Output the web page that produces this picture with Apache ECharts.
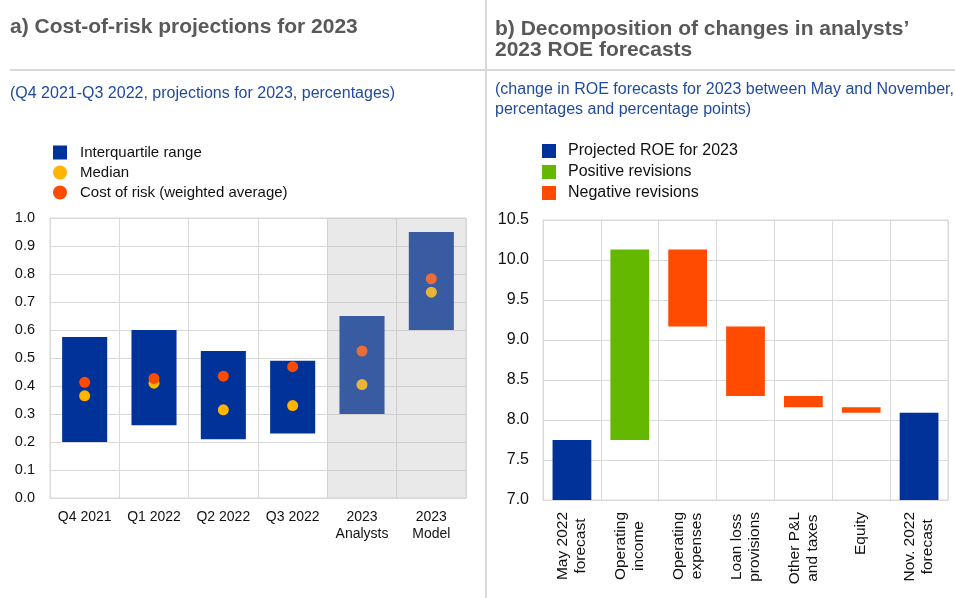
<!DOCTYPE html>
<html><head><meta charset="utf-8">
<script src="https://cdn.jsdelivr.net/npm/echarts@6/dist/echarts.min.js"></script>
<style>html,body{margin:0;padding:0;background:#fff}#c{width:955px;height:598px}</style>
</head><body><div id="c"></div>
<script>
// ---- Panel a data ----
const corCategories = ['Q4 2021', 'Q1 2022', 'Q2 2022', 'Q3 2022', '2023\nAnalysts', '2023\nModel'];
const iqrLower = [0.20, 0.26, 0.21, 0.23, 0.30, 0.60];
const iqrUpper = [0.575, 0.60, 0.525, 0.49, 0.65, 0.95];
const medianValues = [0.365, 0.41, 0.315, 0.33, 0.405, 0.735];
const corWeighted = [0.413, 0.427, 0.435, 0.469, 0.525, 0.783];
const projectionPeriod = [0, 0, 0, 0, 1, 1];
const corAxis = { min: 0, max: 1, interval: 0.1 };

// ---- Panel b data ----
const roeCategories = ['May 2022\nforecast', 'Operating\nincome', 'Operating\nexpenses', 'Loan loss\nprovisions', 'Other P&L\nand taxes', 'Equity', 'Nov. 2022\nforecast'];
const roeMay = 7.75;
const roeRevisions = [2.38, -0.96, -0.87, -0.14, -0.07];
const roeNov = 8.09;
const roeAxis = { min: 7, max: 10.5, interval: 0.5 };

// ---- derived ----
const iqrSize = iqrUpper.map((u, i) => +(u - iqrLower[i]).toFixed(4));
const shade = projectionPeriod.map(p => p ? corAxis.max : '-');

const roeBase = [0], roeProj = [roeMay], roePos = ['-'], roeNeg = ['-'];
let level = roeMay;
roeRevisions.forEach(d => {
  const next = level + d;
  roeBase.push(+Math.min(level, next).toFixed(4));
  roePos.push(d > 0 ? d : '-');
  roeNeg.push(d < 0 ? -d : '-');
  roeProj.push('-');
  level = next;
});
roeBase.push(0); roeProj.push(roeNov); roePos.push('-'); roeNeg.push('-');

const FONT = 'Arial, "Liberation Sans", sans-serif';
const GRID = '#d9d9d9';
const TXT = '#111';
const BLUE = '#003299', YELLOW = '#ffb400', RED = '#ff4b00', GREEN = '#65b800';

const chart = echarts.init(document.getElementById('c'), null, { renderer: 'canvas' });
chart.setOption({
  animation: false,
  textStyle: { fontFamily: FONT },
  title: [
    { text: 'a) Cost-of-risk projections for 2023', left: 10, top: 16, padding: 0,
      textStyle: { fontFamily: FONT, fontSize: 21, fontWeight: 'bold', color: '#595959', lineHeight: 22 } },
    { text: '(Q4 2021-Q3 2022, projections for 2023, percentages)', left: 10, top: 84, padding: 0,
      textStyle: { fontFamily: FONT, fontSize: 16, fontWeight: 'normal', color: '#1f4a9e', lineHeight: 20 } },
    { text: 'b) Decomposition of changes in analysts\u2019\n2023 ROE forecasts', left: 495, top: 18, padding: 0,
      textStyle: { fontFamily: FONT, fontSize: 21, fontWeight: 'bold', color: '#595959', lineHeight: 21.5 } },
    { text: '(change in ROE forecasts for 2023 between May and November,\npercentages and percentage points)', left: 495, top: 80, padding: 0,
      textStyle: { fontFamily: FONT, fontSize: 16, fontWeight: 'normal', color: '#1f4a9e', lineHeight: 20 } }
  ],
  graphic: [
    { type: 'rect', shape: { x: 10, y: 69, width: 945, height: 2 }, style: { fill: GRID }, silent: true },
    { type: 'rect', shape: { x: 485, y: 0, width: 2, height: 598 }, style: { fill: GRID }, silent: true }
  ],
  legend: [
    { orient: 'vertical', left: 53, top: 145, padding: 0, itemWidth: 14, itemHeight: 14, itemGap: 5,
      textStyle: { fontSize: 15, color: TXT, fontFamily: FONT, padding: [0, 0, 0, 8] },
      data: [{ name: 'Interquartile range', icon: 'rect' }, { name: 'Median', icon: 'circle' }, { name: 'Cost of risk (weighted average)', icon: 'circle' }] },
    { orient: 'vertical', left: 542, top: 143, padding: 0, itemWidth: 14, itemHeight: 14, itemGap: 5,
      textStyle: { fontSize: 16, color: TXT, fontFamily: FONT, padding: [0, 0, 0, 7] },
      data: [{ name: 'Projected ROE for 2023', icon: 'rect' }, { name: 'Positive revisions', icon: 'rect' }, { name: 'Negative revisions', icon: 'rect' }] }
  ],
  grid: [
    { left: 50, top: 218, width: 416, height: 280, show: true, borderColor: GRID, borderWidth: 1, backgroundColor: 'transparent' },
    { left: 543, top: 220, width: 405, height: 280, show: true, borderColor: GRID, borderWidth: 1, backgroundColor: 'transparent' }
  ],
  xAxis: [
    { type: 'category', gridIndex: 0, data: corCategories,
      axisLine: { lineStyle: { color: GRID } }, axisTick: { show: false },
      splitLine: { show: true, interval: 0, lineStyle: { color: GRID } },
      axisLabel: { interval: 0, margin: 11, fontSize: 14, color: TXT, lineHeight: 17, fontFamily: FONT } },
    { type: 'category', gridIndex: 1, data: roeCategories,
      axisLine: { lineStyle: { color: GRID } }, axisTick: { show: false },
      splitLine: { show: true, interval: 0, lineStyle: { color: GRID } },
      axisLabel: { interval: 0, rotate: 90, margin: 12, fontSize: 15.5, color: TXT, lineHeight: 18, fontFamily: FONT,
        formatter: v => v.indexOf('\n') >= 0 ? v.split('\n').map(s => '{c|' + s + '}').join('\n') : v,
        rich: { c: { align: 'center', fontSize: 15.5, color: TXT, lineHeight: 18, fontFamily: FONT } } } },
    { type: 'category', gridIndex: 0, data: corCategories, show: false }
  ],
  yAxis: [
    { type: 'value', gridIndex: 0, min: corAxis.min, max: corAxis.max, interval: corAxis.interval,
      axisLine: { show: false }, axisTick: { show: false },
      splitLine: { lineStyle: { color: GRID } },
      axisLabel: { margin: 15, fontSize: 14.5, color: TXT, fontFamily: FONT, formatter: v => v.toFixed(1) } },
    { type: 'value', gridIndex: 1, min: roeAxis.min, max: roeAxis.max, interval: roeAxis.interval,
      axisLine: { show: false }, axisTick: { show: false },
      splitLine: { lineStyle: { color: GRID } },
      axisLabel: { margin: 14, fontSize: 16, color: TXT, fontFamily: FONT, formatter: v => v.toFixed(1) } },
    { type: 'value', gridIndex: 0, min: corAxis.min, max: corAxis.max, show: false }
  ],
  series: [
    { name: 'iqrBase', type: 'bar', xAxisIndex: 0, yAxisIndex: 0, stack: 'iqr', data: iqrLower,
      barWidth: '65%', itemStyle: { color: 'transparent' }, silent: true },
    { name: 'Interquartile range', type: 'bar', xAxisIndex: 0, yAxisIndex: 0, stack: 'iqr', data: iqrSize,
      barWidth: '65%', itemStyle: { color: BLUE } },
    { name: 'Median', type: 'scatter', xAxisIndex: 0, yAxisIndex: 0, data: medianValues, symbolSize: 11,
      itemStyle: { color: YELLOW, opacity: 1 }, z: 3 },
    { name: 'Cost of risk (weighted average)', type: 'scatter', xAxisIndex: 0, yAxisIndex: 0, data: corWeighted, symbolSize: 11,
      itemStyle: { color: RED, opacity: 1 }, z: 3 },
    { name: 'projectionShade', type: 'bar', xAxisIndex: 2, yAxisIndex: 2, data: shade, barWidth: '100%',
      itemStyle: { color: 'rgba(185,185,185,0.31)' }, silent: true, z: 10 },

    { name: 'roeBase', type: 'bar', xAxisIndex: 1, yAxisIndex: 1, stack: 'roe', data: roeBase,
      barWidth: '67%', itemStyle: { color: 'transparent' }, silent: true },
    { name: 'Projected ROE for 2023', type: 'bar', xAxisIndex: 1, yAxisIndex: 1, stack: 'roe', data: roeProj,
      barWidth: '67%', itemStyle: { color: BLUE } },
    { name: 'Positive revisions', type: 'bar', xAxisIndex: 1, yAxisIndex: 1, stack: 'roe', data: roePos,
      barWidth: '67%', itemStyle: { color: GREEN } },
    { name: 'Negative revisions', type: 'bar', xAxisIndex: 1, yAxisIndex: 1, stack: 'roe', data: roeNeg,
      barWidth: '67%', itemStyle: { color: RED } }
  ]
});
</script>
</body></html>
